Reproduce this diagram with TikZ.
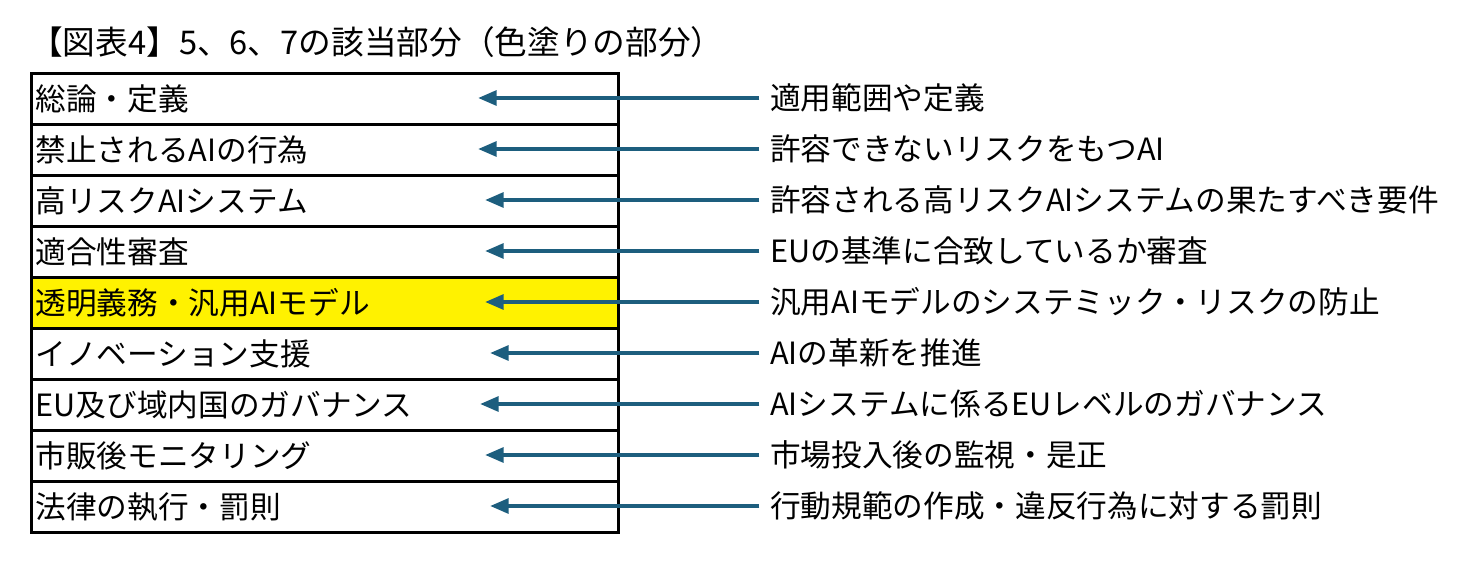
\documentclass[tikz,border=0pt]{standalone}
\usepackage{fontspec}
\setmainfont{Noto Sans CJK JP}
\usetikzlibrary{arrows.meta}
\definecolor{arr}{HTML}{1D5E7E}
\begin{document}
\begin{tikzpicture}[x=0.75pt,y=-0.75pt,
  row/.style={draw=black,line width=2pt,minimum width=440.25pt,minimum height=38.25pt,anchor=north west,inner sep=0pt},
  lab/.style={anchor=west,font=\fontsize{23}{23}\selectfont,inner sep=0pt},
  con/.style={draw=arr,line width=3pt,-{Triangle[length=14pt,width=11pt]}}]
\useasboundingbox (0,0) rectangle (1471,570);
\node[anchor=west,inner sep=0pt,font=\fontsize{24.5}{24.5}\selectfont] (title) at (30,42) {【図表4】5、6、7の該当部分（色塗りの部分）};
\foreach \i/\l/\r/\tx/\fill in {
 0/総論・定義/適用範囲や定義/478/white,
 1/禁止されるAIの行為/許容できないリスクをもつAI/478/white,
 2/高リスクAIシステム/許容される高リスクAIシステムの果たすべき要件/485/white,
 3/適合性審査/EUの基準に合致しているか審査/485/white,
 4/透明義務・汎用AIモデル/汎用AIモデルのシステミック・リスクの防止/485/yellow,
 5/イノベーション支援/AIの革新を推進/490/white,
 6/EU及び域内国のガバナンス/AIシステムに係るEUレベルのガバナンス/480/white,
 7/市販後モニタリング/市場投入後の監視・是正/485/white,
 8/法律の執行・罰則/行動規範の作成・違反行為に対する罰則/490/white}{
  \node[row,fill=\fill] (b\i) at (30,72+51*\i) {};
  \node[lab] (l\i) at ([xshift=4pt]b\i.west) {\l};
  \node[lab] (r\i) at (770,98+51*\i) {\r};
  \coordinate (t\i) at (\tx,98+51*\i);
  \draw[con] ([xshift=-8pt]r\i.west) -- (t\i);
}
\end{tikzpicture}
\end{document}
